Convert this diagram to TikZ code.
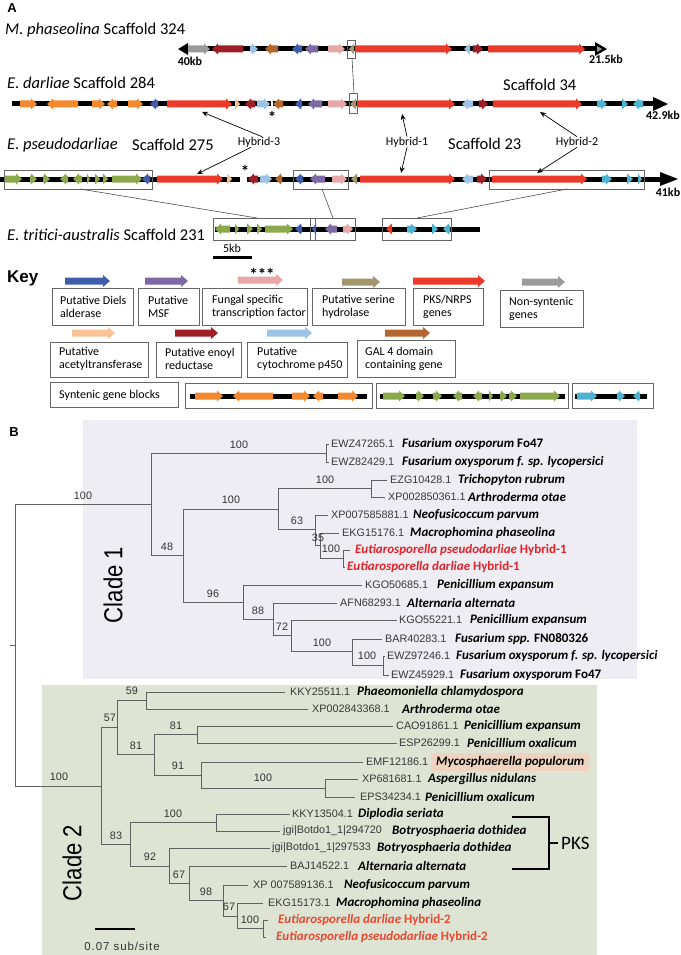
\documentclass[tikz,border=0pt]{standalone}
\usepackage{fontspec}
\setmainfont{Carlito}
\newfontfamily\arialf{Liberation Sans}
\newfontfamily\arialsp[LetterSpace=8]{Liberation Sans}
\usetikzlibrary{arrows.meta,backgrounds}
\definecolor{cblue}{HTML}{3F5DAA}
\definecolor{cpurple}{HTML}{7D69A3}
\definecolor{cpink}{HTML}{E6A8A6}
\definecolor{ckhaki}{HTML}{A0976C}
\definecolor{cred}{HTML}{EC3A2A}
\definecolor{cgrey}{HTML}{9A9A9A}
\definecolor{clorange}{HTML}{F9C396}
\definecolor{cdred}{HTML}{9E1F25}
\definecolor{clblue}{HTML}{9CC2E6}
\definecolor{cbrown}{HTML}{B3662D}
\definecolor{corange}{HTML}{F4882F}
\definecolor{cgreen}{HTML}{8CA84C}
\definecolor{ccyan}{HTML}{4DB3D0}
\definecolor{bgone}{HTML}{EDEDF3}
\definecolor{bgtwo}{HTML}{DDE4D4}
\definecolor{hilite}{HTML}{EFD3BE}
\definecolor{hyone}{HTML}{E3222A}
\definecolor{hytwo}{HTML}{E8482E}
\def\ghl{6}\def\gbh{3.5}\def\ghh{5.5}
\newcommand\geneR[4]{\pgfmathsetmacro\hxa{max(#1,#2-\ghl)}\fill[#4] (#1,#3-\gbh) -- (\hxa,#3-\gbh) -- (\hxa,#3-\ghh) -- (#2,#3) -- (\hxa,#3+\ghh) -- (\hxa,#3+\gbh) -- (#1,#3+\gbh) -- cycle;}
\newcommand\geneL[4]{\pgfmathsetmacro\hxa{min(#2,#1+\ghl)}\fill[#4] (#2,#3-\gbh) -- (\hxa,#3-\gbh) -- (\hxa,#3-\ghh) -- (#1,#3) -- (\hxa,#3+\ghh) -- (\hxa,#3+\gbh) -- (#2,#3+\gbh) -- cycle;}
% leaf: x1 x2 y xacc acc xsp species name
\newcommand\leaf[8]{\draw[br] (#1,#3) -- (#2,#3); \node[acc] (#8a) at (#4,#3) {#5}; \node[sp] (#8s) at (#6,#3) {#7};}
\tikzset{
 ttl/.style={font=\fontsize{16.5}{18}\selectfont, anchor=west, inner sep=0},
 kbl/.style={font=\bfseries\fontsize{12}{14}\selectfont, inner sep=0},
 hyb/.style={font=\fontsize{12}{14}\selectfont, inner sep=0},
 keyt/.style={font=\fontsize{12}{13}\selectfont, align=left, anchor=west, inner sep=0},
 acc/.style={font=\arialf\fontsize{10.8}{12}\selectfont, text=black!78, anchor=west, inner sep=0},
 sp/.style={font=\bfseries\itshape\fontsize{13}{15}\selectfont, anchor=west, inner sep=0},
 bsl/.style={font=\arialf\fontsize{10.8}{12}\selectfont, text=black!80, inner sep=0},
 br/.style={draw=black!62, line width=0.9},
 track/.style={line width=5},
 gbox/.style={draw=black!60, line width=0.8},
 harrow/.style={-{Stealth[length=6,width=5]}, line width=0.7},
 thinl/.style={draw=black!70, line width=0.6},
 astk/.style={font=\bfseries\fontsize{17}{17}\selectfont, inner sep=0},
}
\begin{document}
\begin{tikzpicture}[x=1pt,y=-1pt]
\useasboundingbox (0,0) rectangle (680,955);
% ================= PANEL A =================
\node[font=\arialf\bfseries\fontsize{13}{15}\selectfont, inner sep=0] (labA) at (12,8) {A};
\node[ttl] (t1) at (5,30) {\itshape M. phaseolina\upshape\ Scaffold 324};
\node[ttl] (t2) at (7,83) {\itshape E. darliae\upshape\ Scaffold 284};
\node[ttl] (t3a) at (7,145) {\itshape E. pseudodarliae};
\node[ttl] (t3b) at (132,145) {Scaffold 275};
\node[ttl] (t4) at (7,235) {\itshape E. tritici-australis\upshape\ Scaffold 231};
\node[ttl] (s34) at (503,85) {Scaffold 34};
\node[ttl] (s23) at (448,144) {Scaffold 23};

% ---- track 1
\draw[track] (186,49) -- (597,49);
\fill (178,49) -- (188,43) -- (188,55) -- cycle;
\geneR{188}{210}{49}{cgrey}
\geneL{212}{243}{49}{cdred}
\geneR{250}{258}{49}{clblue}
\geneL{265}{278}{49}{cbrown}
\geneL{292}{302}{49}{cblue}
\geneL{305}{318}{49}{cpurple}
\geneR{328}{345}{49}{cpink}
\geneL{349}{354}{49}{ckhaki}
\geneR{356}{452}{49}{cred}
\geneL{464}{470}{49}{clblue}
\geneR{473}{483}{49}{cdred}
\geneR{488}{585}{49}{cred}
\fill (595,42) -- (607,49) -- (595,56) -- cycle;
\fill[cgrey] (597,46) -- (602,49) -- (597,52) -- cycle;
\draw[gbox] (347,40) rectangle (355,58);
\node[kbl] (kb40) at (190,61) {40kb};
\node[kbl] (kb215) at (606,59) {21.5kb};

% ---- track 2
\draw[track] (12,104) -- (655,104);
\geneR{20}{37}{104}{corange}
\geneL{47}{78}{104}{corange}
\geneR{92}{105}{104}{corange}
\geneL{107}{117}{104}{corange}
\geneR{128}{143}{104}{corange}
\geneL{150}{158}{104}{cblue}
\geneR{167}{232}{104}{cred}
\geneR{235}{240}{104}{clorange}
\geneL{245}{255}{104}{cdred}
\geneR{257}{270}{104}{clblue}
\fill[white] (270.5,100) rectangle (272.5,108);
\geneL{273}{283}{104}{cbrown}
\geneL{295}{302}{104}{cblue}
\geneL{308}{322}{104}{cpurple}
\geneR{328}{347}{104}{cpink}
\geneL{350}{356}{104}{ckhaki}
\geneR{358}{455}{104}{cred}
\geneL{462}{473}{104}{clblue}
\geneR{479}{488}{104}{cdred}
\geneR{493}{582}{104}{cred}
\geneR{597}{607}{104}{ccyan}
\geneR{622}{628}{104}{ccyan}
\geneL{633}{643}{104}{ccyan}
\fill (653,97) -- (668,104) -- (653,111) -- cycle;
\draw[gbox] (349,93) rectangle (357,113);
\node[astk] (ast1) at (272,117) {*};
\node[kbl, anchor=east] (kb429) at (680,115) {42.9kb};
\draw[thinl] (352,58) -- (354,93);

% ---- track 3
\draw[track] (0,179) -- (662,179);
\geneR{5}{22}{179}{cgreen}
\geneR{30}{37}{179}{cgreen}
\geneR{43}{50}{179}{cgreen}
\geneL{60}{68}{179}{cgreen}
\geneL{73}{82}{179}{cgreen}
\geneR{87}{90}{179}{cgreen}
\geneR{95}{100}{179}{cgreen}
\geneR{103}{108}{179}{cgreen}
\geneR{112}{142}{179}{cgreen}
\geneL{142}{150}{179}{cblue}
\geneR{157}{223}{179}{cred}
\geneR{227}{232}{179}{clorange}
\fill[white] (240,175) rectangle (247,183);
\geneL{248}{258}{179}{cdred}
\geneR{260}{272}{179}{clblue}
\geneL{275}{282}{179}{cbrown}
\geneL{295}{303}{179}{cblue}
\geneL{310}{325}{179}{cpurple}
\geneR{332}{347}{179}{cpink}
\geneL{351}{357}{179}{ckhaki}
\geneR{360}{455}{179}{cred}
\geneL{462}{473}{179}{clblue}
\geneR{477}{487}{179}{cdred}
\geneR{492}{587}{179}{cred}
\geneR{602}{612}{179}{ccyan}
\geneR{627}{633}{179}{ccyan}
\geneR{638}{642}{179}{ccyan}
\fill (660,172) -- (678,179) -- (660,186) -- cycle;
\draw[gbox] (4,170) rectangle (152,189);
\draw[gbox] (293,170) rectangle (348,189);
\draw[gbox] (489,170) rectangle (644,189);
\node[astk] (ast2) at (245,171) {*};
\node[kbl] (kb41) at (668,192) {41kb};

% ---- track 4
\draw[track] (215,229) -- (480,229);
\geneL{215}{230}{229}{cgreen}
\geneR{235}{239}{229}{cgreen}
\geneR{247}{253}{229}{cgreen}
\geneR{257}{262}{229}{cgreen}
\geneR{265}{293}{229}{cgreen}
\geneL{295}{302}{229}{cblue}
\geneL{312}{316}{229}{cblue}
\geneL{325}{337}{229}{cpurple}
\geneR{343}{353}{229}{cpink}
\geneL{386}{392}{229}{cred}
\geneR{407}{417}{229}{ccyan}
\geneR{432}{438}{229}{ccyan}
\geneL{443}{450}{229}{ccyan}
\draw[gbox] (213,218) rectangle (315,240);
\draw[gbox] (310,218) rectangle (355,240);
\draw[gbox] (382,218) rectangle (451,240);
\draw[thinl] (80,189) -- (257,218);
\draw[thinl] (322,189) -- (333,218);
\draw[thinl] (567,189) -- (417,218);

% ---- hybrid annotations
\node[hyb] (h3) at (259,142) {Hybrid-3};
\node[hyb] (h1) at (407,142) {Hybrid-1};
\node[hyb] (h2) at (577,142) {Hybrid-2};
\coordinate (h3u) at (202,112); \coordinate (h3d) at (197,174);
\coordinate (h1u) at (402,114); \coordinate (h1d) at (401,173);
\coordinate (h2u) at (540,112); \coordinate (h2d) at (537,173);
\draw[harrow] ([xshift=3pt]h3.north) -- (h3u);
\draw[harrow] ([xshift=-8pt]h3.south) -- (h3d);
\draw[harrow] (h1.north) -- (h1u);
\draw[harrow] (h1.south) -- (h1d);
\draw[harrow] (h2.north) -- (h2u);
\draw[harrow] (h2.south) -- (h2d);

% ---- 5kb scale
\draw[line width=3] (213,257) -- (252,257);
\node[font=\fontsize{12}{14}\selectfont, inner sep=0] (k5) at (232,248) {5kb};

% ================= KEY =================
\node[font=\arialf\bfseries\fontsize{17}{19}\selectfont, anchor=west, inner sep=0] (keyl) at (7,278) {Key};
\begin{scope}
\def\ghl{7}\def\gbh{3.5}\def\ghh{6}
\geneR{65}{110}{281}{cblue}
\geneR{145}{188}{281}{cpurple}
\geneR{238}{283}{280}{cpink}
\geneR{342}{380}{282}{ckhaki}
\geneR{413}{485}{281}{cred}
\geneR{522}{565}{282}{cgrey}
\geneR{72}{115}{333}{clorange}
\geneR{175}{218}{333}{cdred}
\geneR{267}{312}{333}{clblue}
\geneR{385}{430}{333}{cbrown}
\end{scope}
\node[astk] (stars) at (262,274) {***};
\draw[gbox] (52,288) rectangle (133,325);
\draw[gbox] (138,288) rectangle (199,325);
\draw[gbox] (202,288) rectangle (307,325);
\draw[gbox] (312,288) rectangle (405,325);
\draw[gbox] (413,288) rectangle (483,325);
\draw[gbox] (500,290) rectangle (583,327);
\draw[gbox] (50,342) rectangle (148,377);
\draw[gbox] (156,342) rectangle (241,377);
\draw[gbox] (247,342) rectangle (347,377);
\draw[gbox] (357,340) rectangle (455,377);
\node[keyt] (ka) at (60,306.5) {Putative Diels\\alderase};
\node[keyt] (kb) at (148,306.5) {Putative\\MSF};
\node[keyt] (kc) at (212,306.5) {Fungal specific\\transcription factor};
\node[keyt] (kd) at (322,306.5) {Putative serine\\hydrolase};
\node[keyt] (ke) at (423,306.5) {PKS/NRPS\\genes};
\node[keyt] (kf) at (509,309) {Non-syntenic\\genes};
\node[keyt] (kg) at (59,359) {Putative\\acetyltransferase};
\node[keyt] (kh) at (165,359) {Putative enoyl\\reductase};
\node[keyt] (ki) at (257,359) {Putative\\cytochrome p450};
\node[keyt] (kj) at (365,359) {GAL 4 domain\\containing gene};
% syntenic blocks
\draw[gbox] (50,382) rectangle (178,407);
\node[keyt] (kk) at (59,395) {Syntenic gene blocks};
\draw[track] (190,396) -- (367,396);
\geneR{195}{223}{396}{corange}
\geneL{233}{273}{396}{corange}
\geneR{292}{310}{396}{corange}
\geneL{313}{323}{396}{corange}
\geneR{338}{358}{396}{corange}
\draw[track] (380,396) -- (565,396);
\geneR{383}{405}{396}{cgreen}
\geneR{416}{424}{396}{cgreen}
\geneR{433}{442}{396}{cgreen}
\geneL{453}{462}{396}{cgreen}
\geneL{473}{482}{396}{cgreen}
\geneR{489}{493}{396}{cgreen}
\geneR{500}{507}{396}{cgreen}
\geneR{509}{517}{396}{cgreen}
\geneR{520}{560}{396}{cgreen}
\draw[track] (575,396) -- (647,396);
\geneR{577}{597}{396}{ccyan}
\geneR{617}{625}{396}{ccyan}
\geneL{633}{640}{396}{ccyan}
\draw[gbox] (185,383) rectangle (372,408);
\draw[gbox] (376,383) rectangle (568,408);
\draw[gbox] (572,383) rectangle (653,408);

% ================= PANEL B =================
\node[font=\arialf\bfseries\fontsize{13}{15}\selectfont, inner sep=0] (labB) at (14,432) {B};
\node[rotate=90, font=\arialf\fontsize{26}{28}\selectfont, inner sep=0] (cl1) at (113,585) {\scalebox{0.85}[1]{Clade 1}};
\node[rotate=90, font=\arialf\fontsize{26}{28}\selectfont, inner sep=0] (cl2) at (72,863) {\scalebox{0.85}[1]{Clade 2}};

% root
\draw[br] (10,645) -- (15,645);
\draw[br] (15,504) -- (15,786);
\draw[br] (15,504) -- (151,504);
\draw[br] (15,786) -- (101,786);
% clade 1 internal
\draw[br] (151,453) -- (151,555);
\draw[br] (151,453) -- (326,453);
\draw[br] (326,444) -- (326,462);
\draw[br] (151,555) -- (183,555);
\draw[br] (183,509) -- (183,602);
\draw[br] (183,509) -- (278,509);
\draw[br] (278,488) -- (278,529);
\draw[br] (278,488) -- (371,488);
\draw[br] (371,480) -- (371,497);
\draw[br] (278,529) -- (315,529);
\draw[br] (315,515) -- (315,545);
\draw[br] (315,545) -- (320,545);
\draw[br] (320,533) -- (320,558);
\draw[br] (320,558) -- (343,558);
\draw[br] (343,550) -- (343,567);
\draw[br] (183,602) -- (243,602);
\draw[br] (243,585) -- (243,619);
\draw[br] (243,619) -- (273,619);
\draw[br] (273,603) -- (273,635);
\draw[br] (273,635) -- (291,635);
\draw[br] (291,620) -- (291,651);
\draw[br] (291,651) -- (352,651);
\draw[br] (352,639) -- (352,665);
\draw[br] (352,665) -- (383,665);
\draw[br] (383,656) -- (383,675);
% clade 1 leaves
\leaf{326}{329}{444}{331}{EWZ47265.1}{402}{Fusarium oxysporum \upshape Fo47}{la}
\leaf{326}{329}{462}{331}{EWZ82429.1}{402}{Fusarium oxysporum f. sp. lycopersici}{lb}
\leaf{371}{387}{480}{390}{EZG10428.1}{458}{Trichopyton rubrum}{lc}
\leaf{371}{385}{497}{388}{XP002850361.1}{468}{Arthroderma otae}{ld}
\leaf{315}{328}{515}{331}{XP007585881.1}{413}{Neofusicoccum parvum}{le}
\leaf{320}{339}{533}{342}{EKG15176.1}{410}{Macrophomina phaseolina}{lf}
\draw[br] (343,550) -- (350,550);
\node[sp, text=hyone] (lgs) at (355,550) {Eutiarosporella pseudodarliae \upshape Hybrid-1};
\draw[br] (343,567) -- (345,567);
\node[sp, text=hyone] (lhs) at (347,567) {Eutiarosporella darliae \upshape Hybrid-1};
\leaf{243}{362}{585}{365}{KGO50685.1}{437}{Penicillium expansum}{li}
\leaf{273}{337}{603}{340}{AFN68293.1}{407}{Alternaria alternata}{lj}
\leaf{291}{397}{620}{399}{KGO55221.1}{470}{Penicillium expansum}{lk}
\leaf{352}{382}{639}{385}{BAR40283.1}{455}{Fusarium spp. \upshape FN080326}{ll}
\leaf{383}{385}{656}{387}{EWZ97246.1}{456}{Fusarium oxysporum f. sp. lycopersici}{lm}
\leaf{383}{389}{675}{391}{EWZ45929.1}{460}{Fusarium oxysporum \upshape Fo47}{ln}
% clade 1 support
\node[bsl] (b1) at (83,496) {100};
\node[bsl] (b2) at (239,445) {100};
\node[bsl] (b3) at (167,547) {48};
\node[bsl] (b4) at (231,500) {100};
\node[bsl] (b5) at (325,480) {100};
\node[bsl] (b6) at (297,521) {63};
\node[bsl] (b7) at (318,538) {35};
\node[bsl] (b8) at (331,549) {100};
\node[bsl] (b9) at (213,594) {96};
\node[bsl] (b10) at (258,611) {88};
\node[bsl] (b11) at (282,627) {72};
\node[bsl] (b12) at (322,643) {100};
\node[bsl] (b13) at (367,656) {100};

% clade 2 internal
\draw[br] (101,727.5) -- (101,844);
\draw[br] (101,727.5) -- (117,727.5);
\draw[br] (117,700.5) -- (117,754.5);
\draw[br] (117,700.5) -- (146,700.5);
\draw[br] (146,692) -- (146,709);
\draw[br] (117,754.5) -- (154,754.5);
\draw[br] (154,734.5) -- (154,775);
\draw[br] (154,734.5) -- (197,734.5);
\draw[br] (197,726) -- (197,743);
\draw[br] (154,775) -- (201,775);
\draw[br] (201,762) -- (201,788);
\draw[br] (201,788) -- (325,788);
\draw[br] (325,779) -- (325,797);
\draw[br] (101,844) -- (130,844);
\draw[br] (130,822.5) -- (130,866);
\draw[br] (130,822.5) -- (216,822.5);
\draw[br] (216,814) -- (216,831);
\draw[br] (130,866) -- (169,866);
\draw[br] (169,848) -- (169,883);
\draw[br] (169,883) -- (189,883);
\draw[br] (189,866) -- (189,900);
\draw[br] (189,900) -- (223,900);
\draw[br] (223,885) -- (223,916);
\draw[br] (223,916) -- (237,916);
\draw[br] (237,903) -- (237,928.5);
\draw[br] (237,928.5) -- (263,928.5);
\draw[br] (263,920) -- (263,937);
% clade 2 leaves
\leaf{146}{285}{692}{290}{KKY25511.1}{357}{Phaeomoniella chlamydospora}{ma}
\leaf{146}{308}{709}{312}{XP002843368.1}{402}{Arthroderma otae}{mb}
\leaf{197}{393}{726}{396}{CAO91861.1}{464}{Penicillium expansum}{mc}
\leaf{197}{397}{743}{399}{ESP26299.1}{467}{Penicillium oxalicum}{md}
\leaf{201}{363}{762}{366}{EMF12186.1}{436}{Mycosphaerella populorum}{me}
\leaf{325}{358}{779}{362}{XP681681.1}{428}{Aspergillus nidulans}{mf}
\leaf{325}{355}{797}{360}{EPS34234.1}{425}{Penicillium oxalicum}{mg}
\leaf{216}{290}{814}{292}{KKY13504.1}{358}{Diplodia seriata}{mh}
\leaf{216}{280}{831}{283}{jgi|Botdo1\_1|294720}{392}{Botryosphaeria dothidea}{mi}
\leaf{169}{270}{848}{272}{jgi|Botdo1\_1|297533}{377}{Botryosphaeria dothidea}{mj}
\leaf{189}{287}{866}{290}{BAJ14522.1}{358}{Alternaria alternata}{mk}
\leaf{223}{248}{885}{253}{XP 007589136.1}{344}{Neofusicoccum parvum}{ml}
\leaf{237}{263}{903}{268}{EKG15173.1}{336}{Macrophomina phaseolina}{mm}
\draw[br] (263,920) -- (268,920);
\node[sp, text=hytwo] (mns) at (278,920) {Eutiarosporella darliae \upshape Hybrid-2};
\draw[br] (263,937) -- (266,937);
\node[sp, text=hytwo] (mos) at (276,937) {Eutiarosporella pseudodarliae \upshape Hybrid-2};
% clade 2 support
\node[bsl] (c1) at (59,777) {100};
\node[bsl] (c2) at (110,718) {57};
\node[bsl] (c3) at (132,691) {59};
\node[bsl] (c4) at (136,746) {81};
\node[bsl] (c5) at (176,726) {81};
\node[bsl] (c6) at (178,766) {91};
\node[bsl] (c7) at (263,778) {100};
\node[bsl] (c8) at (116,836) {83};
\node[bsl] (c9) at (173,814) {100};
\node[bsl] (c10) at (150,857) {92};
\node[bsl] (c11) at (179,875) {67};
\node[bsl] (c12) at (206,892) {98};
\node[bsl] (c13) at (229,907) {67};
\node[bsl] (c14) at (250,920) {100};

% backgrounds
\begin{scope}[on background layer]
\fill[bgone] (83,420) rectangle (637,679);
\fill[bgtwo] (42,685) rectangle (597,955);
\fill[hilite] ([xshift=-5pt,yshift=-3pt]mes.south west) rectangle ([xshift=4pt,yshift=3pt]mes.north east);
\end{scope}

% PKS bracket
\draw[line width=2.5] (512,817) -- (549,817) -- (549,869) -- (512,869);
\draw[line width=2.5] (549,843) -- (558,843);
\node[font=\fontsize{19}{21}\selectfont, anchor=west, inner sep=0] (pks) at (561,843) {PKS};
% scale bar
\draw[line width=2.5] (95,929) -- (135,929);
\node[font=\arialsp\fontsize{11.5}{13}\selectfont, text=black!80, inner sep=0] (scl) at (122,946) {0.07 sub/site};
\end{tikzpicture}
\end{document}
